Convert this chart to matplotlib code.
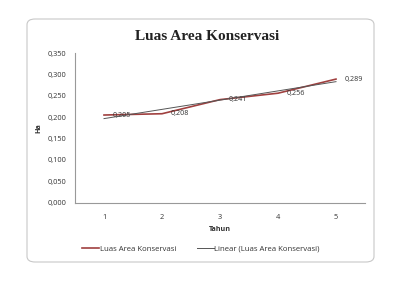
import numpy as np
import matplotlib
matplotlib.use("Agg")
import matplotlib.pyplot as plt
from matplotlib.patches import FancyBboxPatch

years = [1, 2, 3, 4, 5]
values = [0.205, 0.208, 0.241, 0.256, 0.289]
value_labels = ["0,205", "0,208", "0,241", "0,256", "0,289"]
yticks = [0.0, 0.05, 0.10, 0.15, 0.20, 0.25, 0.30, 0.35]
ytick_labels = ["0,000", "0,050", "0,100", "0,150", "0,200", "0,250", "0,300", "0,350"]

plt.rcParams['font.family'] = ['Open Sans', 'DejaVu Sans']

fig = plt.figure(figsize=(4.05, 2.84), dpi=100)
fig.patch.set_facecolor('white')

W, H = 405, 284
box = FancyBboxPatch((27 / W, (H - 262) / H), (374 - 27) / W, (262 - 19) / H,
                     boxstyle="round,pad=0,rounding_size=0.02",
                     transform=fig.transFigure, facecolor='white',
                     edgecolor='#c8c8c8', linewidth=0.8, zorder=-5)
fig.patches.append(box)

ax = fig.add_axes([75 / W, (H - 202.7) / H, (365 - 75) / W, (202.7 - 53) / H])
ax.set_facecolor('none')
ax.set_zorder(2)

x = np.array(years, dtype=float)
y = np.array(values)
coef = np.polyfit(x, y, 1)
trend = np.polyval(coef, x)

ax.plot(x, y, color='#a0403f', lw=1.2, label='Luas Area Konservasi', zorder=3)
ax.plot(x, trend, color='#555555', lw=0.7, label='Linear (Luas Area Konservasi)', zorder=4)

for xi, yi, lab in zip(x, y, value_labels):
    ax.annotate(lab, (xi, yi), xytext=(6, 0), textcoords='offset points',
                ha='left', va='center', fontsize=5.2, color='#333333')

ax.set_xlim(0.5, 5.5)
ax.set_ylim(0, 0.35)
ax.set_xticks(years)
ax.set_xticklabels([str(v) for v in years])
ax.set_yticks(yticks)
ax.set_yticklabels(ytick_labels)
ax.tick_params(axis='both', length=0, labelsize=5.3, colors='#333333', pad=6)
ax.tick_params(axis='x', pad=8)
for s in ['top', 'right']:
    ax.spines[s].set_visible(False)
for s in ['left', 'bottom']:
    ax.spines[s].set_color('#999999')
    ax.spines[s].set_linewidth(0.8)

ax.set_xlabel('Tahun', fontsize=5.2, fontweight='bold', color='#333333', labelpad=4)
ax.set_ylabel('Ha', fontsize=5.2, fontweight='bold', color='#333333', labelpad=4)

fig.text(207 / W, 1 - 37 / H, 'Luas Area Konservasi', ha='center', va='center',
         fontsize=11, fontweight='bold', family=['Liberation Serif', 'DejaVu Serif'],
         color='#222222')

leg = fig.legend(loc='center', bbox_to_anchor=(201 / W, 1 - 249 / H), ncol=2,
                 frameon=False, fontsize=5.6, handlelength=2.2, handletextpad=0.1,
                 columnspacing=2.6)
for t in leg.get_texts():
    t.set_color('#333333')

fig.savefig('out.png', dpi=100, facecolor='white')
